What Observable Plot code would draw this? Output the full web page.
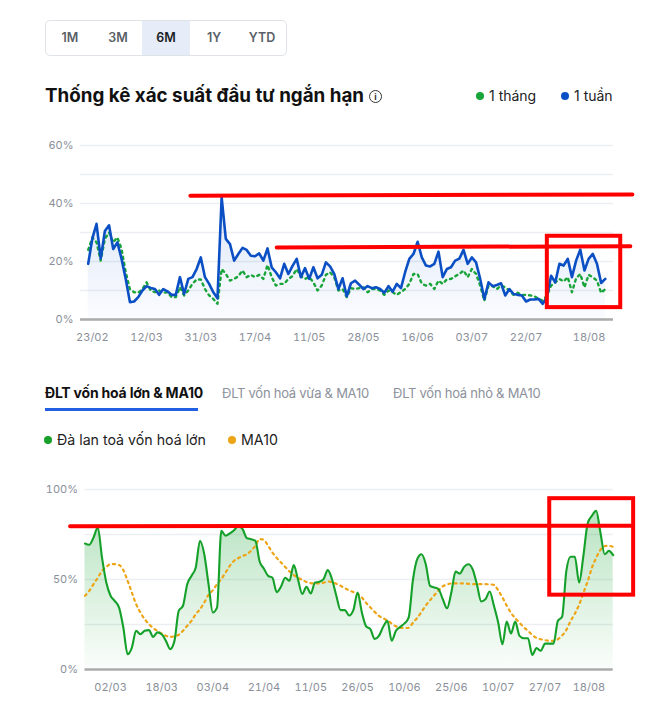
<!DOCTYPE html>
<html><head><meta charset="utf-8">
<script src="https://cdn.jsdelivr.net/npm/d3@7"></script>
<script src="https://cdn.jsdelivr.net/npm/@observablehq/plot@0.6"></script>
<style>
body{margin:0;background:#fff;font-family:Inter,"Noto Sans",sans-serif;width:652px;height:712px;position:relative;overflow:hidden;color:#111}
.abs{position:absolute}
.btns{left:45px;top:20px;width:240px;height:34px;border:1px solid #dfe3e8;border-radius:5px;display:flex;overflow:hidden}
.btns div{width:48px;height:34px;line-height:34px;text-align:center;font-size:12.5px;font-weight:600;color:#5a5f68}
.btns div.sel{background:#e6edf8;color:#1b1f26}
.title{left:45px;top:84px;font-size:18.8px;font-weight:700;white-space:nowrap}
.info{left:369px;top:90px;width:11px;height:11px;border:1.4px solid #333;border-radius:50%;font-size:9px;line-height:11px;text-align:center;font-weight:700;color:#333}
.leg{font-size:14px;color:#222;white-space:nowrap;display:flex;align-items:center}
.dot{display:inline-block;width:8px;height:8px;border-radius:50%;margin-right:5px}
.tab{top:385px;font-size:13px;letter-spacing:-0.25px;white-space:nowrap;color:#8c919b}
.tab.on{top:384px;font-size:14px;color:#111;font-weight:700;letter-spacing:-0.2px}
.ul{left:45px;top:408px;width:153px;height:3px;background:#2160e3}
svg{overflow:visible}
</style></head><body>
<div class="abs btns"><div>1M</div><div>3M</div><div class="sel">6M</div><div>1Y</div><div>YTD</div></div>
<div class="abs title">Thống kê xác suất đầu tư ngắn hạn</div>
<div class="abs info">i</div>
<div class="abs leg" style="left:476px;top:87px"><span class="dot" style="background:#1aa53a"></span>1 tháng</div>
<div class="abs leg" style="left:561px;top:87px"><span class="dot" style="background:#0b4fc4"></span>1 tuần</div>
<div class="abs tab on" style="left:45px">ĐLT vốn hoá lớn &amp; MA10</div>
<div class="abs tab" style="left:222px">ĐLT vốn hoá vừa &amp; MA10</div>
<div class="abs tab" style="left:393px">ĐLT vốn hoá nhỏ &amp; MA10</div>
<div class="abs ul"></div>
<div class="abs leg" style="left:44px;top:431px;font-size:14.2px"><span class="dot" style="background:#15a02a"></span>Đà lan toả vốn hoá lớn</div>
<div class="abs leg" style="left:228px;top:431px;font-size:14.2px"><span class="dot" style="background:#eda517"></span>MA10</div>
<div class="abs" id="top" style="left:0;top:135px"></div>
<div class="abs" id="bot" style="left:0;top:480px"></div>
<script>
// Top chart: short-term investment probability (%), daily index 0 = 13/02
const week = [
19.2,28,33,21,30.5,32.5,24.3,26.6,20.9,14,
6,6.2,7.7,10,11.5,10.9,10.5,8.5,10.5,9.7,
8.5,8.5,14.6,8.8,14,14.6,17.4,21.4,14.6,12.3,
9.4,7.3,42.1,27.8,26,20.3,22.6,24.7,24,22,
21.8,22.8,20.3,24.5,18,16.3,14.2,19.2,15.7,18.5,
20.9,14.6,17.7,14,18,14.2,15.4,19.7,18.3,15.7,
10.5,14.2,8,12.5,13.4,12,10.5,11.5,10.8,11.1,
10.5,9.2,11.5,9.6,12.3,10.8,16.3,20.9,22.6,26.8,
21.4,18.6,18.3,19.2,23.4,14.6,17.4,18,20.3,21,
24,19.2,21.4,19.7,14,7.1,12.8,11.5,11.9,12.5,
8.3,10.5,8.8,8.5,8.3,6.2,6.9,6.9,7.1,5.4,
7.7,15.1,12.8,19.2,18.6,20.9,14.6,20.3,24.1,16.9,
20.9,22.6,19.2,12.6,14];
const month = [
24,28.3,26.6,20.3,27.8,30,26.6,28.3,24.3,16.3,
10.5,9.4,9.2,10.5,12.8,10,9.4,10,9.2,9.4,
7.7,7.7,11.1,8.3,10,12.3,13.8,13.8,10.5,8.3,
7.1,5.4,17.4,15.7,13.4,14,14.9,16.9,14.6,15.4,
14.6,15.4,14,18.8,14.6,11.7,12.3,12.3,14,15,
17.4,14.9,14,14.6,12.8,10,11.7,15.4,16.3,14.6,
10,10.5,7.7,10.8,10.5,10.8,11.1,9.4,10.5,10.5,
10,8.5,10,9.4,8.5,9.5,10.5,12.3,15.7,15.7,
12.3,11.7,12.3,10.5,13.4,12.3,13.8,14,14.9,15.7,
16.9,14.6,17.4,15.7,11.7,6.5,11.7,11.5,10.5,11.7,
11.1,10,8.5,9.2,8.5,8.5,8.3,8,7.1,6.5,
8.3,11.7,12.8,14,13.1,14.6,9.4,14.2,15.7,11.1,
15.4,14.6,13.4,9.2,10.5];
// Bottom chart: large-cap breadth (%) and its MA10
const breadth = [
70,69.3,73.3,78.9,62,48.3,41,38,34.4,23.3,
8.5,12.2,21.5,19.6,21.5,21.9,18.1,20.6,19.6,15.9,
11.3,15.9,32.6,35.4,47.4,52,56.7,71.5,64,47.4,
31.7,34.4,77,74.3,75.6,77.4,79.8,78,73,72.4,
71.5,60,56,52,51,43,46,51,49.3,58,
50,42,45.9,42.2,48.3,48.7,50.2,55.2,50,41,
33,33,30,33,42.8,31.7,24,22.4,17,18.7,
23.7,27,16,21.5,23.7,25.6,29,50,61.3,64,
58.5,46.5,45.6,44.6,39,34,42.8,54.4,53.3,57,
58.5,55.7,47.4,37.8,39,43.3,35.4,26.1,14,26.7,
20,26.7,18.7,17.4,17.4,8.1,11.9,10.4,14.4,14.4,
14.4,27,29.3,54.8,62.6,62.6,48.3,63.1,81.1,85.4,
88.1,76.1,64,65.9,63.5];
const ma10 = [
41,43.7,47.4,51,54.8,57,58.5,58.5,58,55.2,
49.3,42.8,36.3,31.7,28,25.2,23,21.5,20,18.7,
18.1,18.5,19.3,21.5,24.3,27,30.7,33.5,37.2,41.5,
44,47.4,50.2,53.9,57.6,60.4,61.9,63.1,64,66,
68.7,72.5,72,68.7,65,62,59.5,57,54.5,52.5,
51,49.8,48.6,48,47.8,47.8,48.2,48.9,48.5,47.6,
46.5,45.2,44,43,42,40,37,34.5,32,29.8,
28.5,27.2,25.5,24,23.3,23,23.2,26,28.7,32,
35.5,38.5,41.2,44,46.2,47.2,47.8,47.8,47.8,47.8,
47.6,47.4,47.4,47.4,47.4,47.3,47,44,40,35.5,
31.5,28.5,26,23.5,21.5,19.2,17.5,16.8,16.3,16,
15.9,16.8,18.8,22,27,31,36,42.5,49,56.5,
62,66.5,68.5,68.7,68.1];
const topTickIdx = [1,14,27,40,53,66,79,92,105,124];
const topTickLabels = ["23/02","12/03","31/03","17/04","11/05","28/05","16/06","03/07","22/07","18/08"];
const botTickIdx = [6,18,30,42,53,64,75,86,97,108,124];
const botTickLabels = ["02/03","18/03","03/04","21/04","11/05","26/05","10/06","25/06","10/07","27/07","18/08"];
const topYTicks = [0,20,40,60];
const topGrid = [0,10,20,30,40,50,60];
const botYTicks = [0,50,100];
const botGrid = [0,25,50,75,100];
// hand-drawn red annotations (index, %)
const topAnnoLines = [{x1:24.5,y1:42.7,x2:130.5,y2:43.1},{x1:45.2,y1:24.8,x2:130,y2:25.3}];
const topAnnoBox = [{x1:110.1,x2:127.7,y1:4.1,y2:28.7}];
const botAnnoLines = [{x1:-3.5,y1:79.6,x2:128.6,y2:79.9}];
const botAnnoBox = [{x1:109.1,x2:128.8,y1:41.3,y2:94.9}];

const idx = d3.range(week.length);
const topRows = idx.map(i => ({i, week: week[i], month: month[i]}));
const botRows = idx.map(i => ({i, b: breadth[i], m: ma10[i]}));
const topLab = new Map(topTickIdx.map((t,k)=>[t, topTickLabels[k]]));
const botLab = new Map(botTickIdx.map((t,k)=>[t, botTickLabels[k]]));
const axisStyle = {fontFamily:"Inter, 'Noto Sans', sans-serif", fontSize:"11px", color:"#8a8f99", background:"transparent"};

const topChart = Plot.plot({
  width:652, height:215, marginTop:10, marginBottom:31, marginLeft:80, marginRight:39,
  style: axisStyle,
  x:{domain:[0,124], insetLeft:7.7, insetRight:8.2, axis:null},
  y:{domain:[0,60], axis:null},
  marks:[
    Plot.ruleY(topGrid, {stroke:"#eceef2", strokeWidth:1.5}),
    Plot.areaY(topRows, {x:"i", y:"week", fill:"url(#gBlue)"}),
    Plot.ruleY([0], {stroke:"#ababab", strokeWidth:2.5}),
    Plot.lineY(topRows, {x:"i", y:"month", stroke:"#1aa53a", strokeWidth:2.4, strokeDasharray:"2.2,4"}),
    Plot.lineY(topRows, {x:"i", y:"week", stroke:"#0b4fc4", strokeWidth:2.6, strokeLinejoin:"round"}),
    Plot.axisY({ticks:topYTicks, tickFormat:d=>d+"%", tickSize:0, tickPadding:7, label:null}),
    Plot.axisX({ticks:topTickIdx.slice(0,-1), tickFormat:d=>topLab.get(d), tickSize:0, tickPadding:14, label:null}),
    Plot.axisX({ticks:topTickIdx.slice(-1), tickFormat:d=>topLab.get(d), tickSize:0, tickPadding:14, label:null, textAnchor:"end"}),
    Plot.link(topAnnoLines, {x1:"x1", y1:"y1", x2:"x2", y2:"y2", stroke:"#ff0000", strokeWidth:4, strokeLinecap:"round"}),
    Plot.rect(topAnnoBox, {x1:"x1", x2:"x2", y1:"y1", y2:"y2", fill:"none", stroke:"#ff0000", strokeWidth:4})
  ]
});
d3.select(topChart).insert("defs", ":first-child").html(
  '<linearGradient id="gBlue" x1="0" y1="0" x2="0" y2="1"><stop offset="0" stop-color="#1b5fd0" stop-opacity="0.15"/><stop offset="1" stop-color="#1b5fd0" stop-opacity="0.02"/></linearGradient>');
document.getElementById("top").appendChild(topChart);

const botChart = Plot.plot({
  width:652, height:220, marginTop:9, marginBottom:31, marginLeft:84.5, marginRight:39.3,
  style: axisStyle,
  x:{domain:[0,124], axis:null},
  y:{domain:[0,100], axis:null},
  marks:[
    Plot.ruleY(botGrid, {stroke:"#eceef2", strokeWidth:1.5}),
    Plot.areaY(botRows, {x:"i", y:"b", fill:"url(#gGreen)", curve:"monotone-x"}),
    Plot.ruleY([0], {stroke:"#ababab", strokeWidth:2.5}),
    Plot.lineY(botRows, {x:"i", y:"m", stroke:"#eda517", strokeWidth:2.2, strokeDasharray:"2.2,4", curve:"monotone-x"}),
    Plot.lineY(botRows, {x:"i", y:"b", stroke:"#15a02a", strokeWidth:2.1, curve:"monotone-x"}),
    Plot.axisY({ticks:botYTicks, tickFormat:d=>d+"%", tickSize:0, tickPadding:7, label:null}),
    Plot.axisX({ticks:botTickIdx.slice(0,-1), tickFormat:d=>botLab.get(d), tickSize:0, tickPadding:14, label:null}),
    Plot.axisX({ticks:botTickIdx.slice(-1), tickFormat:d=>botLab.get(d), tickSize:0, tickPadding:14, label:null, textAnchor:"end", dx:-8}),
    Plot.link(botAnnoLines, {x1:"x1", y1:"y1", x2:"x2", y2:"y2", stroke:"#ff0000", strokeWidth:4, strokeLinecap:"round"}),
    Plot.rect(botAnnoBox, {x1:"x1", x2:"x2", y1:"y1", y2:"y2", fill:"none", stroke:"#ff0000", strokeWidth:4})
  ]
});
d3.select(botChart).insert("defs", ":first-child").html(
  '<linearGradient id="gGreen" x1="0" y1="0" x2="0" y2="1"><stop offset="0" stop-color="#22a83c" stop-opacity="0.32"/><stop offset="1" stop-color="#22a83c" stop-opacity="0.02"/></linearGradient>');
document.getElementById("bot").appendChild(botChart);
</script>
</body></html>
